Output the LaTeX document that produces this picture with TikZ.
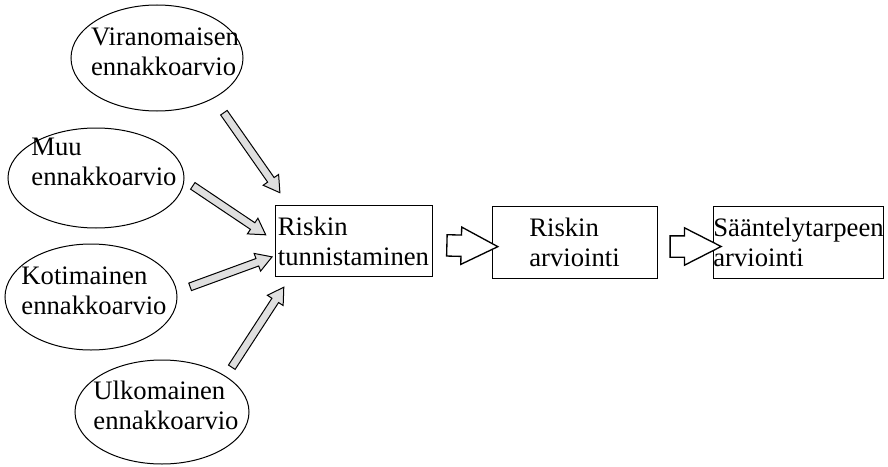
\documentclass[tikz,border=0pt]{standalone}
\usepackage{fontspec}
\setmainfont{Liberation Serif}
\usetikzlibrary{shapes.arrows,calc}

\tikzset{
    teksti/.style={font=\fontsize{20}{22.5}\selectfont, align=left, inner sep=0pt},
    kehys/.style={draw, line width=0.75pt},
    vaihe/.style={teksti, rectangle, draw, line width=0.75pt, inner xsep=1pt, minimum height=53.5pt},
    ohut/.style={single arrow, draw, fill=gray!25, line width=0.75pt, inner xsep=0pt, inner ysep=2.6pt,
        single arrow head extend=4.1pt, single arrow tip angle=62, sloped, allow upside down},
    paksu/.style={single arrow, draw, fill=white, line width=1pt, inner xsep=0pt, inner ysep=7.5pt,
        single arrow head extend=6pt, single arrow tip angle=54, minimum height=38.25pt, sloped}
}
% thin arrow between two named points
\newcommand{\nuoli}[2]{\path let \p1=($(#2)-(#1)$), \n1={veclen(\x1,\y1)} in
    (#1) -- (#2) node[midway, ohut, minimum height=\n1]{};}

\begin{document}
\begin{tikzpicture}[x=0.75pt, y=-0.75pt]
    \useasboundingbox (0,0) rectangle (888,467);
    % ennakkoarviot
    \draw[kehys] (157,58) ellipse [x radius=86, y radius=53];
    \node[teksti] (vir) at (165,52) {Viranomaisen\\ennakkoarvio};
    \draw[kehys] (96,178) ellipse [x radius=88, y radius=50];
    \node[teksti] (muu) at (104,162) {Muu\\ennakkoarvio};
    \draw[kehys] (91,297) ellipse [x radius=86, y radius=53];
    \node[teksti] (kot) at (94,291) {Kotimainen\\ennakkoarvio};
    \draw[kehys] (162,412) ellipse [x radius=87, y radius=52];
    \node[teksti] (ulk) at (166,405) {Ulkomainen\\ennakkoarvio};
    % vaiheet
    \node[vaihe, minimum width=117.75pt] (tun) at (353.5,241) {Riskin\\tunnistaminen};
    \node[vaihe, minimum width=123.75pt] (arv) at (574.5,242.5) {Riskin\\arviointi};
    \node[vaihe, minimum width=126.75pt, inner xsep=0pt] (sae) at (798.5,242.5) {Sääntelytarpeen\\arviointi};
    % nuolten päät
    \coordinate (vir0) at (222,110);  \coordinate (vir1) at (278,190);
    \coordinate (muu0) at (190,184);  \coordinate (muu1) at (263,233);
    \coordinate (kot0) at (187,288);  \coordinate (kot1) at (269,258);
    \coordinate (ulk0) at (230,370);  \coordinate (ulk1) at (282,290);
    \nuoli{vir0}{vir1}
    \nuoli{muu0}{muu1}
    \nuoli{kot0}{kot1}
    \nuoli{ulk0}{ulk1}
    % vaiheiden väliin
    \path (tun.east) -- (arv.west) node[midway, paksu, yshift=-3pt]{};
    \path (arv.east) -- (sae.west) node[midway, paksu, yshift=-3pt]{};
\end{tikzpicture}
\end{document}
